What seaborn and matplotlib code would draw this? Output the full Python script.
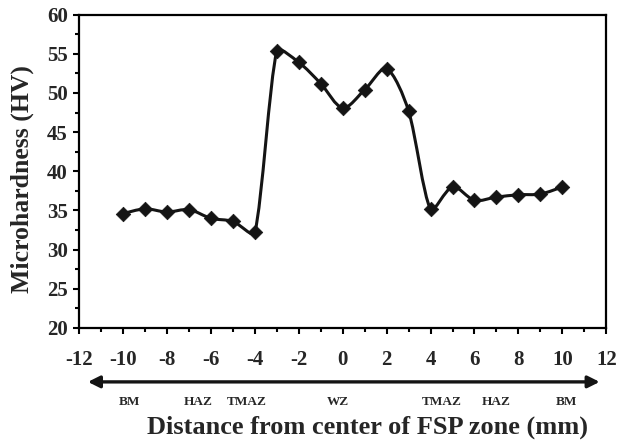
import matplotlib
matplotlib.use('Agg')
import matplotlib.pyplot as plt
from matplotlib.path import Path
from matplotlib.patches import PathPatch
from matplotlib.ticker import MultipleLocator
from matplotlib.transforms import blended_transform_factory
import numpy as np
import pandas as pd
import seaborn as sns

# distance from FSP centre (mm) and measured hardness (HV)
distance = [-10, -9, -8, -7, -6, -5, -4, -3, -2, -1, 0, 1, 2, 3, 4, 5, 6, 7, 8, 9, 10]
hardness = [34.6, 35.2, 34.8, 35.1, 34.0, 33.6, 32.2, 55.3, 53.9, 51.2, 48.1, 50.4,
            53.1, 47.7, 35.2, 38.0, 36.3, 36.7, 37.0, 37.1, 38.0]

zone_names = ['BM', 'HAZ', 'TMAZ', 'WZ', 'TMAZ', 'HAZ', 'BM']
zone_x = [-9.7, -6.6, -4.35, -0.2, 4.5, 7.0, 10.2]

x_ticks = list(range(-12, 13, 2))
y_ticks = list(range(20, 61, 5))

df = pd.DataFrame({'distance': distance, 'hardness': hardness})

sns.set_style('ticks')
plt.rcParams['font.family'] = ['Liberation Serif', 'DejaVu Serif']
plt.rcParams['font.weight'] = 'bold'
plt.rcParams['axes.unicode_minus'] = False

fig = plt.figure(figsize=(6.18, 4.42), dpi=100)
ax = fig.add_axes([0.128, 0.258, 0.853, 0.709])

line_col = '#141414'


def smooth_path(xs, ys, yscale=0.355):
    # smoothed line like excel: catmull-rom handles, shortened next to short segments
    pts = np.column_stack([xs, ys]).astype(float)
    sc = np.array([1.0, yscale])
    n = len(pts)

    def seglen(a, b):
        return np.hypot(*((b - a) * sc))

    verts = [pts[0]]
    codes = [Path.MOVETO]
    for i in range(n - 1):
        p0 = pts[i - 1] if i > 0 else pts[i]
        p1 = pts[i]
        p2 = pts[i + 1]
        p3 = pts[i + 2] if i + 2 < n else pts[i + 1]
        d01, d12, d23 = seglen(p0, p1), seglen(p1, p2), seglen(p2, p3)
        k1 = min(1.0, 2 * d12 / (d01 + d12))
        k2 = min(1.0, 2 * d12 / (d12 + d23))
        c1 = p1 + (p2 - p0) / 6.0 * k1
        c2 = p2 - (p3 - p1) / 6.0 * k2
        verts += [c1, c2, p2]
        codes += [Path.CURVE4] * 3
    return Path(verts, codes)


ax.add_patch(PathPatch(smooth_path(df['distance'], df['hardness']), facecolor='none',
                       edgecolor=line_col, lw=2.2, zorder=2))
sns.scatterplot(data=df, x='distance', y='hardness', marker='D', s=55, color=line_col,
                edgecolor=line_col, linewidth=0.5, ax=ax, zorder=3)

ax.set_xlim(-12, 12)
ax.set_ylim(20, 60)
ax.set_xticks(x_ticks)
ax.set_yticks(y_ticks)
ax.xaxis.set_minor_locator(MultipleLocator(1))
ax.yaxis.set_minor_locator(MultipleLocator(2.5))
ax.tick_params(axis='both', which='major', direction='out', length=4, width=1.5,
               labelsize=15, color='black')
ax.tick_params(axis='x', which='major', pad=12)
ax.tick_params(axis='y', which='major', pad=4)
ax.tick_params(axis='both', which='minor', direction='out', length=3, width=1.5, color='black')
for lab in ax.get_xticklabels() + ax.get_yticklabels():
    lab.set_fontweight('bold')
for sp in ax.spines.values():
    sp.set_visible(True)
    sp.set_linewidth(1.6)
    sp.set_color('black')

ax.set_xlabel('')
ax.set_ylabel('')
fig.text(0.036, 0.595, 'Microhardness (HV)', rotation=90, ha='center', va='center',
         fontsize=18.5, fontweight='bold')

# double arrow under the axis, spanning the distance range
trans = blended_transform_factory(ax.transData, fig.transFigure)
ax.annotate('', xy=(-11.6, 0.136), xytext=(11.7, 0.136), xycoords=trans, textcoords=trans,
            arrowprops=dict(arrowstyle='<|-|>,head_length=0.7,head_width=0.35', color=line_col,
                            lw=2.4, shrinkA=0, shrinkB=0), annotation_clip=False)

for name, zx in zip(zone_names, zone_x):
    ax.text(zx, 0.0905, name, transform=trans, ha='center', va='center', fontsize=9.5,
            fontweight='bold', clip_on=False)

fig.text(0.595, 0.034, 'Distance from center of FSP zone (mm)', ha='center', va='center',
         fontsize=19, fontweight='bold')

fig.savefig('out.png', dpi=100)
